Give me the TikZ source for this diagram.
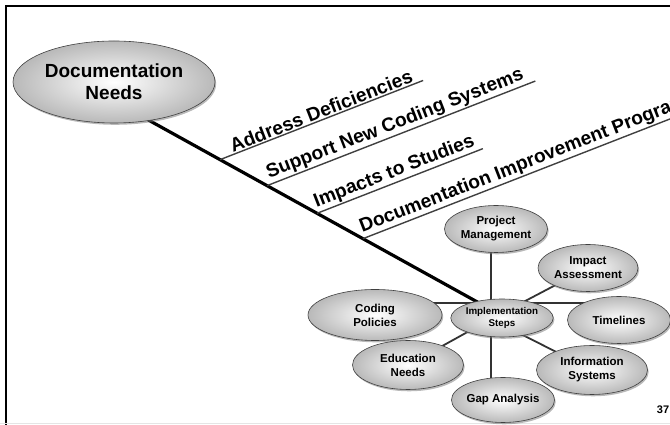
\documentclass[tikz,border=0pt]{standalone}
\usepackage{fontspec}
\setmainfont{Liberation Sans}
\usepackage{tikz}
\usetikzlibrary{shapes.geometric,positioning,calc,shadows,backgrounds}
\colorlet{rimgray}{gray!55}

\begin{document}
\begin{tikzpicture}[x=1pt,y=1pt,
	bubble/.style={ellipse, draw=black!75, line width=0.6pt, inner sep=0pt, align=center, shading=radial, inner color=white, outer color=rimgray, drop shadow={shadow xshift=1.2pt, shadow yshift=-1.8pt, fill=black!55}, font=\bfseries\fontsize{11.5}{14}\selectfont},
	hubbubble/.style={bubble, font=\bfseries\fontsize{9.8}{11.5}\selectfont},
	spoke/.style={draw=black!80, line width=1.8pt},
	trunk/.style={draw=black, line width=3.2pt},
	branch/.style={draw=black!75, line width=1.4pt},
	branchlabel/.style={sloped, anchor=south west, inner sep=1pt, font=\bfseries\fontsize{19.2}{22}\selectfont}]
	
	\useasboundingbox (0,0) rectangle (670,425);
	
	% FRAME
	
	\draw[line width=2pt] (6,0) -- (6,419) -- (670,419);
	\draw[gray!20, line width=1.5pt] (0,1.5) -- (670,1.5);
	
	% BUBBLES
	
	\node[bubble, minimum width=202pt, minimum height=82pt, font=\bfseries\fontsize{19}{22}\selectfont] (docneeds) at (114,343) {Documentation\\Needs};
	
	\node[hubbubble, minimum width=85pt, minimum height=38pt] (impl) at (502,107) {Implementation\\Steps};
	\node[bubble, minimum width=103pt, minimum height=47pt] (projmgmt) at (496,196) {Project\\Management};
	\node[bubble, minimum width=100pt, minimum height=47pt] (impact) at (588,157) {Impact\\Assessment};
	\node[bubble, minimum width=103pt, minimum height=47pt] (timelines) at (619,105) {Timelines};
	\node[bubble, minimum width=111pt, minimum height=49pt] (infosys) at (592,55) {Information\\Systems};
	\node[bubble, minimum width=100pt, minimum height=45pt] (gapanalysis) at (503,25) {Gap Analysis};
	\node[bubble, minimum width=111pt, minimum height=49pt] (eduneeds) at (408,60) {Education\\Needs};
	\node[bubble, minimum width=134pt, minimum height=51pt] (coding) at (375,110) {Coding\\Policies};
	
	% CONNECTORS
	
	\begin{pgfonlayer}{background}
		\coordinate (hubc) at (491,106);
		\coordinate (hline) at (491,122);
		\coordinate (trunkstart) at ([yshift=-19pt]docneeds.center);
		\coordinate (trunkend) at (490,116);
		
		\draw[trunk] (trunkstart) -- (trunkend);
		
		\draw[spoke] (hubc) -- (hubc |- projmgmt.center);
		\draw[spoke] (hubc) -- (hubc |- gapanalysis.center);
		\draw[spoke] (hubc) -- (impact.center);
		\draw[spoke] (hubc) -- (infosys.center);
		\draw[spoke] (hubc) -- (eduneeds.center);
		\draw[spoke] (coding.center |- hline) -- (timelines.center |- hline);
	\end{pgfonlayer}
	
	% BRANCHES
	
	\coordinate (adjoint) at ($(trunkstart)!0.282!(trunkend)$);
	\coordinate (supjoint) at ($(trunkstart)!0.407!(trunkend)$);
	\coordinate (impjoint) at ($(trunkstart)!0.540!(trunkend)$);
	\coordinate (progjoint) at ($(trunkstart)!0.662!(trunkend)$);
	
	\draw[branch] (adjoint) -- ++(21.3:218) node[branchlabel, pos=0.06] {Address Deficiencies};
	\draw[branch] (supjoint) -- ++(21.3:288) node[branchlabel, pos=0.01] {Support New Coding Systems};
	\draw[branch] (impjoint) -- ++(21.3:178) node[branchlabel, pos=0] {Impacts to Studies};
	\draw[branch] (progjoint) -- ++(21.3:340) node[branchlabel, pos=0] {Documentation Improvement Program};
	
	\node[font=\bfseries\fontsize{11}{13}\selectfont] (pagenum) at (663,15) {37};
	
\end{tikzpicture}
\end{document}
